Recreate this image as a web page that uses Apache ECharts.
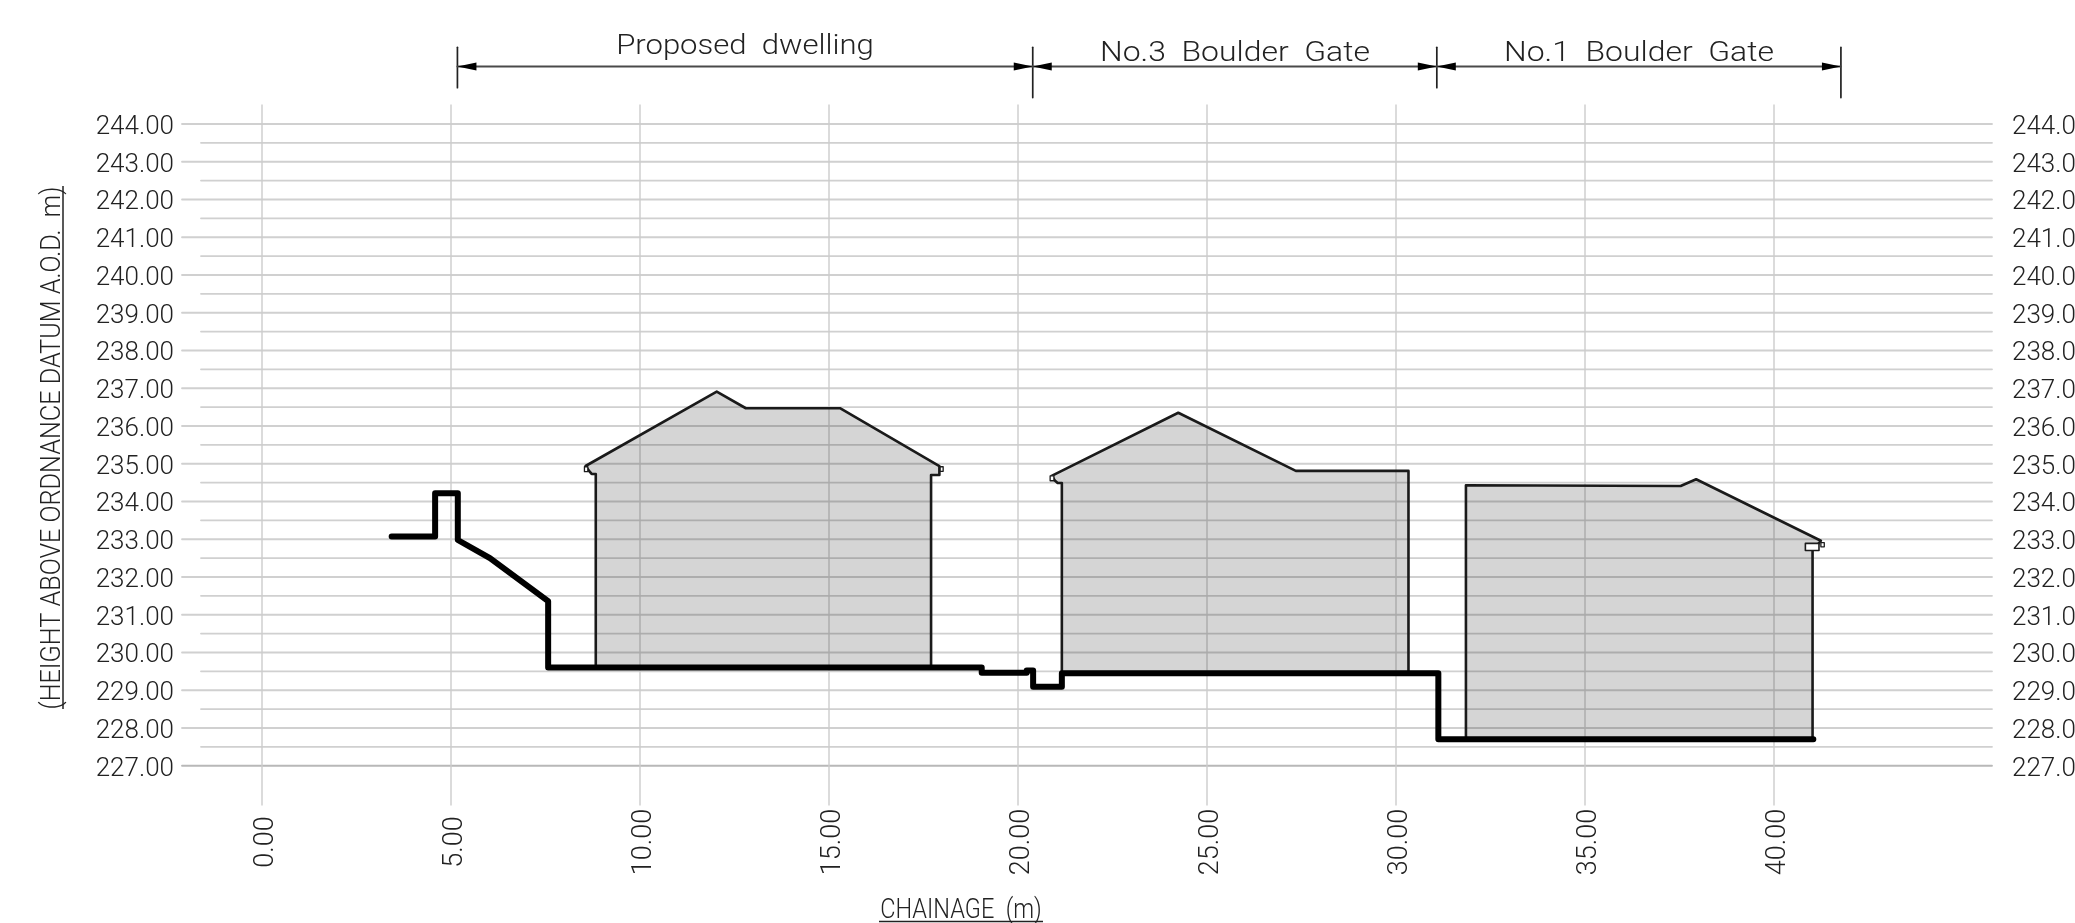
<!DOCTYPE html>
<html>
<head>
<meta charset="utf-8">
<style>html,body{margin:0;padding:0;background:#fff;overflow:hidden}#c{width:2075px;height:923px}</style>
<script src="https://cdn.jsdelivr.net/npm/echarts@6/dist/echarts.min.js"></script>
</head>
<body>
<div id="c"></div>
<script>
const xTicks = [0,5,10,15,20,25,30,35,40];
const yTicks = [227,228,229,230,231,232,233,234,235,236,237,238,239,240,241,242,243,244];
const yHalfTicks = [227.5,228.5,229.5,230.5,231.5,232.5,233.5,234.5,235.5,236.5,237.5,238.5,239.5,240.5,241.5,242.5,243.5];

const ground = [[3.43,233.07],[4.58,233.07],[4.58,234.22],[5.18,234.22],[5.18,232.98],[6.03,232.50],[7.57,231.36],[7.57,229.60],[19.04,229.60],[19.04,229.465],[20.23,229.465],[20.23,229.52],[20.40,229.52],[20.40,229.09],[21.16,229.09],[21.16,229.45],[31.12,229.45],[31.12,227.70],[41.04,227.70]];

const house1 = [[8.83,229.60],[8.83,234.73],[8.72,234.73],[8.67,234.79],[8.56,234.94],[12.03,236.91],[12.80,236.47],[15.29,236.47],[17.92,234.94],[17.92,234.70],[17.70,234.70],[17.70,229.60]];
const house2 = [[21.16,229.45],[21.16,234.49],[21.05,234.49],[20.98,234.55],[20.89,234.68],[24.24,236.35],[27.35,234.81],[30.33,234.81],[30.33,229.45]];
const house3 = [[31.85,227.70],[31.85,234.43],[37.53,234.41],[37.94,234.59],[41.24,232.96],[41.02,232.70],[41.02,227.70]];
const fascia3 = [[40.83,232.89],[41.19,232.89],[41.19,232.70],[40.83,232.70]];
const gutters = [
  [[8.53,234.92],[8.62,234.92],[8.62,234.79],[8.53,234.79]],
  [[17.94,234.92],[18.02,234.92],[18.02,234.80],[17.94,234.80]],
  [[20.85,234.68],[20.95,234.68],[20.95,234.55],[20.85,234.55]],
  [[41.24,232.91],[41.33,232.91],[41.33,232.80],[41.24,232.80]]
];

const dimY = 245.52;
const dimSpans = [[5.17,20.39],[20.39,31.08],[31.08,41.77]];
const dimTicks = [[5.17,246.03,244.96],[20.39,246.03,244.70],[31.08,246.03,244.96],[41.77,246.03,244.70]];
const dimNames = ['Proposed  dwelling','No.3  Boulder  Gate','No.1  Boulder  Gate'];

const xMin=-2.1164, xMax=45.767, yMin=225.96, yMax=244.503, halfStart=-1.614;
const labelFont = 'Roboto,"Liberation Sans",sans-serif';
const textCol = '#222222';

function lineSeries(data, color, width, z, extra){
  return Object.assign({type:'line',data,symbol:'none',silent:true,clip:false,animation:false,z,
    lineStyle:{color,width,cap:'round',join:'round'}},extra||{});
}
function polySeries(points, fill, stroke, width, z){
  return {type:'custom',coordinateSystem:'cartesian2d',data:points,silent:true,animation:false,clip:false,z,
    encode:{x:0,y:1},
    renderItem(params, api){
      if(params.dataIndex!==0) return null;
      return {type:'polygon',shape:{points:points.map(p=>api.coord(p))},
        style:{fill:fill,stroke:stroke,lineWidth:width,lineJoin:'round'}};
    }};
}
const series = [];
yHalfTicks.forEach(v=>series.push(lineSeries([[halfStart,v],[xMax,v]],'#d0d0d0',1.8,1)));
yTicks.forEach(v=>series.push(lineSeries([[xMin,v],[xMax,v]],v===227?'#b8b8b8':'#d0d0d0',1.8,1)));
xTicks.forEach(v=>series.push(lineSeries([[v,yMin],[v,yMax]],'#cccccc',1.4,1)));
[house1,house2,house3].forEach(h=>series.push(polySeries(h,'rgba(0,0,0,0.165)','#1a1a1a',2.6,3)));
series.push(polySeries(fascia3,'#ffffff','#1c1c1c',1.6,4));
gutters.forEach(g=>series.push(polySeries(g,'#ffffff','#1c1c1c',1.3,4)));
series.push(lineSeries(ground,'#000000',6,5));
dimTicks.forEach(t=>series.push(lineSeries([[t[0],t[1]],[t[0],t[2]]],'#222222',1.7,6)));
dimSpans.forEach(s=>series.push(lineSeries([[s[0],dimY],[s[1],dimY]],'#4a4a4a',2,6)));
series.push({type:'custom',coordinateSystem:'cartesian2d',data:dimSpans,silent:true,animation:false,clip:false,z:7,
  encode:{x:0,y:1},
  renderItem(params,api){
    const s=dimSpans[params.dataIndex];
    const a=api.coord([s[0],dimY]), b=api.coord([s[1],dimY]);
    const head=(p,dir)=>({type:'polygon',shape:{points:[[p[0],p[1]],[p[0]+dir*19,p[1]-4],[p[0]+dir*19,p[1]+4]]},style:{fill:'#000'}});
    return {type:'group',children:[head(a,1),head(b,-1)]};
  }});

function t(text,x,y,size,sx,rot){
  return {type:'text',x,y,rotation:rot||0,scaleX:sx||1,silent:true,z:10,
    style:{text,font:'300 '+size+'px '+labelFont,fill:textCol,textAlign:'center',textVerticalAlign:'middle'}};
}
function rule(x1,y1,x2,y2){return {type:'line',silent:true,z:10,shape:{x1,y1,x2,y2},style:{stroke:'#222',lineWidth:1.5}};}

const chart = echarts.init(document.getElementById('c'),null,{renderer:'canvas',width:2075,height:923});
const tickFmt = v=>'{a|'+Number(v).toFixed(2)+'}';
const richY = {a:{color:textCol,fontFamily:labelFont,fontWeight:300,fontSize:26,padding:[7,0,0,0]}};
const richX = {a:{color:textCol,fontFamily:labelFont,fontWeight:300,fontSize:27,padding:[8,0,0,0]}};
chart.setOption({
  animation:false,
  backgroundColor:'#ffffff',
  grid:{left:182,right:83,top:105,bottom:118,containLabel:false,outerBoundsMode:'none'},
  xAxis:{type:'value',min:xMin,max:xMax,axisLine:{show:false},axisTick:{show:false},splitLine:{show:false},
    axisLabel:{customValues:xTicks,rotate:90,align:'center',verticalAlign:'middle',margin:37,
      formatter:tickFmt,rich:richX}},
  yAxis:[
    {type:'value',position:'left',min:yMin,max:yMax,axisLine:{show:false},axisTick:{show:false},splitLine:{show:false},
     axisLabel:{customValues:yTicks,margin:8,formatter:tickFmt,rich:richY}},
    {type:'value',position:'right',min:yMin,max:yMax,axisLine:{show:false},axisTick:{show:false},splitLine:{show:false},
     axisLabel:{customValues:yTicks,margin:20,align:'left',formatter:tickFmt,rich:richY}}
  ],
  series,
  graphic:[
    t(dimNames[0],745,47,28,1.11),
    t(dimNames[1],1235,53.5,28,1.14),
    t(dimNames[2],1639,53.5,28,1.14),
    t('(HEIGHT ABOVE ORDNANCE DATUM A.O.D.  m)',53,448,28,0.9,Math.PI/2),
    t('CHAINAGE  (m)',961,911,28,0.84),
    rule(63,186,63,709),
    rule(879,921.5,1043,921.5)
  ]
});
</script>
</body>
</html>
